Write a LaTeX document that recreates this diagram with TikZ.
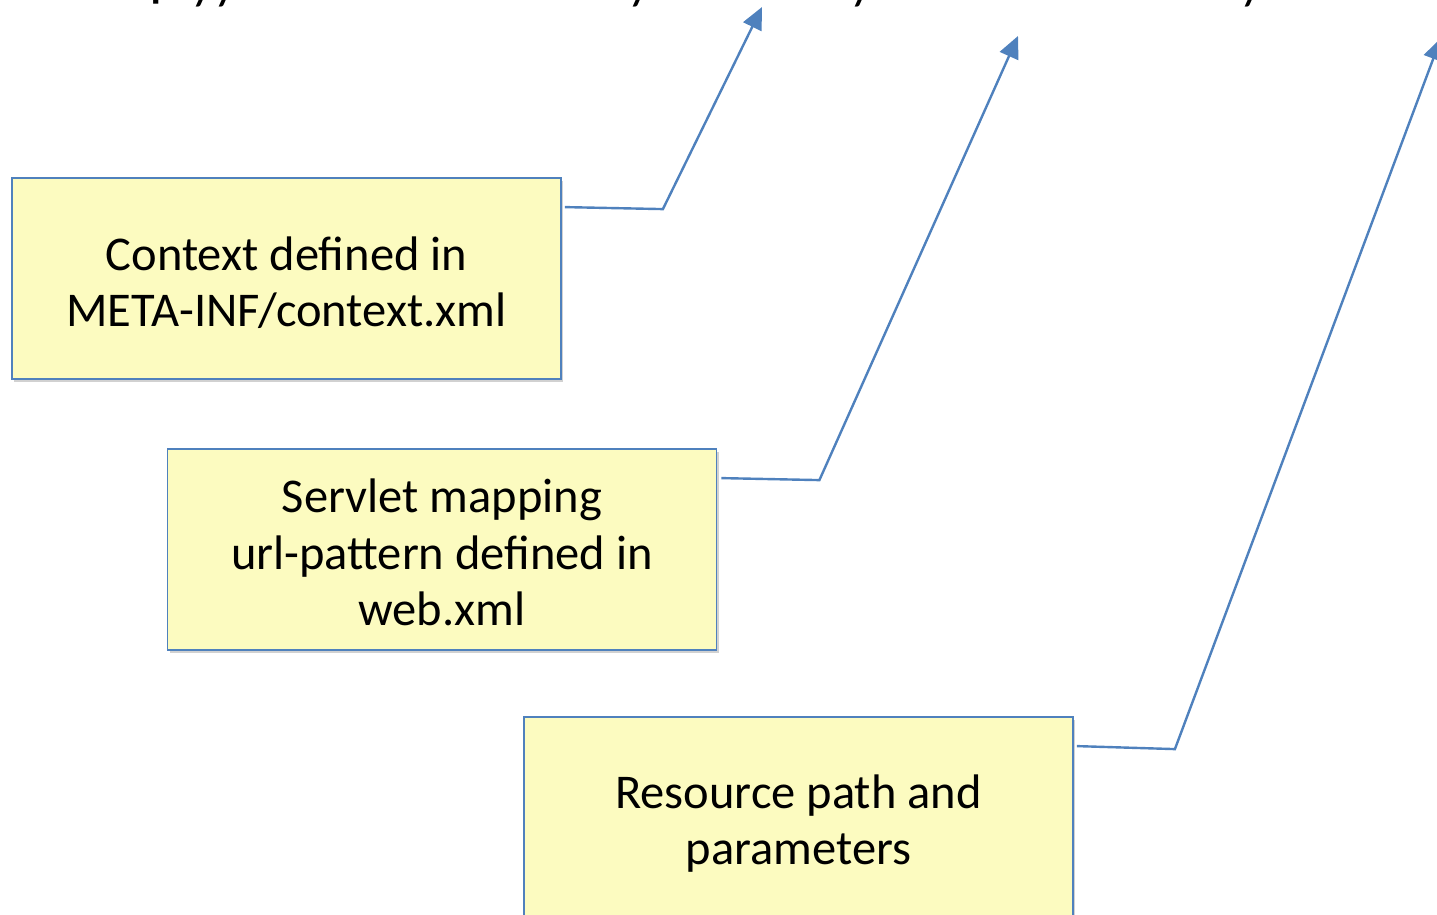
\documentclass[tikz,border=0pt]{standalone}
\usepackage{fontspec}
\setmainfont{Carlito}
\usetikzlibrary{arrows.meta,shadows}
\definecolor{noteblue}{RGB}{79,129,189}
\definecolor{noteyellow}{RGB}{252,251,192}
\newcommand{\lowslash}{\raisebox{-9.5pt}{/}}
\tikzset{
  notebox/.style={draw=noteblue, line width=1.8pt, fill=noteyellow,
    minimum width=549pt, minimum height=201pt, inner sep=0pt,
    drop shadow={shadow xshift=2pt, shadow yshift=-3pt, fill=black!40, opacity=0.45}},
  notetext/.style={align=center, inner sep=0pt, font=\fontsize{48.5}{56.5}\selectfont},
  pointer/.style={draw=noteblue, line width=2.4pt, -{Triangle[length=22pt,width=20pt]}}
}

\begin{document}
\begin{tikzpicture}[x=1pt,y=-1pt]
	%%%%% START %%%%%
	\useasboundingbox (0,0) rectangle (1437,915);
	
	% the address, mostly above the page
	\node[anchor=base west, inner sep=0pt, font=\fontsize{60}{72}\selectfont] (url) at (80,-5)
		{\makebox[553pt][l]{http:\lowslash\lowslash localhost:8080}\lowslash\makebox[199pt][l]{context}\lowslash\makebox[367pt][l]{servlet}\lowslash resource};
	
	\node[notebox, label={[notetext,yshift=-4pt]center:{Context defined in\\META-INF/context.xml}}] (ctx) at (286.5,278.5) {};
	\node[notebox, label={[notetext,yshift=-3pt]center:{Servlet mapping\\url-pattern defined in\\web.xml}}] (map) at (442,549.5) {};
	\node[notebox, label={[notetext,yshift=-6pt]center:{Resource path and\\parameters}}] (res) at (798.5,817.5) {};
	
	\coordinate (ctxtip) at (762,7);
	\coordinate (maptip) at (1018,36);
	\coordinate (restip) at (1441,38);
	
	\draw[pointer] ([shift={(3,30)}]ctx.north east) -- ++(98,2) -- (ctxtip);
	\draw[pointer] ([shift={(4,30)}]map.north east) -- ++(98,2) -- (maptip);
	\draw[pointer] ([shift={(3,30)}]res.north east) -- ++(98,3) -- (restip);
	
	%%%%% END %%%%%
\end{tikzpicture}
\end{document}
